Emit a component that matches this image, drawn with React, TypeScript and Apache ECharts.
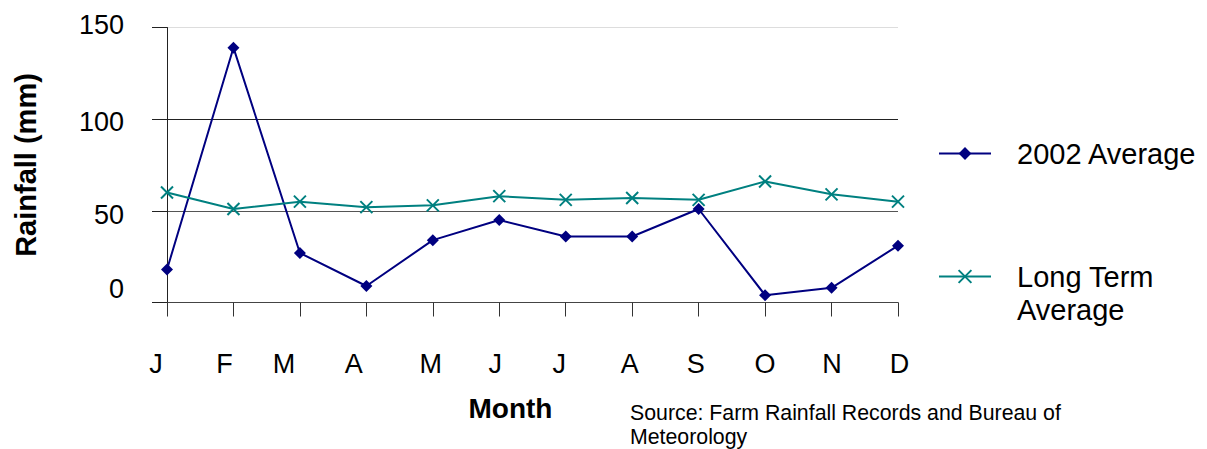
import React, { useEffect, useRef } from "react";
import * as echarts from "echarts";

const months = ["J", "F", "M", "A", "M", "J", "J", "A", "S", "O", "N", "D"];
const avg2002 = [18, 139, 27, 9, 34, 45, 36, 36, 51, 4, 8, 31];
const longTerm = [60, 51, 55, 52, 53, 58, 56, 57, 56, 66, 59, 55];
const yTicks = [0, 50, 100, 150];

const FONT = "'Liberation Sans', Arial, sans-serif";
// Horizontal nudge of each month label relative to its tick (px)
const labelNudge = [-11, -9, -16, -12.5, -2, -4, -6.5, -2.5, -3, 0, 0.5, 1.5];
// Vertical nudge of each value label relative to its gridline (px, + = down)
const valueNudge = [-14, 4, 3, -2.5];

const crossPath = "path://M0,0L10,10M10,0L0,10";

export default function App() {
  const ref = useRef<HTMLDivElement>(null);

  useEffect(() => {
    if (!ref.current) return;
    const chart = echarts.init(ref.current, undefined, { renderer: "svg" });

    const xRich: Record<string, any> = {};
    labelNudge.forEach((d, i) => {
      xRich["s" + i] = {
        fontFamily: FONT,
        fontSize: 27,
        color: "#000",
        padding: [0, d < 0 ? -2 * d : 0, 0, d > 0 ? 2 * d : 0],
      };
    });
    const yRich: Record<string, any> = {};
    valueNudge.forEach((d, i) => {
      yRich["v" + i] = {
        fontFamily: FONT,
        fontSize: 27,
        color: "#000",
        padding: [d > 0 ? 2 * d : 0, 0, d < 0 ? -2 * d : 0, 0],
      };
    });

    chart.setOption({
      animation: false,
      backgroundColor: "#fff",
      grid: { left: 167, right: 309, top: 27.5, bottom: 146.5, containLabel: false },
      xAxis: {
        type: "category",
        data: months,
        boundaryGap: false,
        name: "Month",
        nameLocation: "middle",
        nameGap: 92,
        nameTextStyle: {
          fontFamily: FONT,
          fontSize: 28,
          fontWeight: "bold",
          color: "#000",
          padding: [0, 44, 0, 0],
        },
        axisLine: { show: true, lineStyle: { color: "#444", width: 1 } },
        axisTick: { show: true, length: 14, inside: false, alignWithLabel: true, lineStyle: { color: "#333" } },
        axisLabel: {
          margin: 48,
          interval: 0,
          formatter: (v: string, i: number) => `{s${i}|${v}}`,
          rich: xRich,
        },
        splitLine: { show: false },
      },
      yAxis: {
        type: "value",
        min: yTicks[0],
        max: yTicks[yTicks.length - 1],
        interval: yTicks[1] - yTicks[0],
        name: "Rainfall (mm)",
        nameLocation: "middle",
        nameRotate: 90,
        nameGap: 127,
        nameTextStyle: {
          fontFamily: FONT,
          fontSize: 29,
          fontWeight: "bold",
          color: "#000",
        },
        axisLine: { show: true, lineStyle: { color: "#222", width: 1 } },
        axisTick: { show: true, length: 15, lineStyle: { color: "#222" } },
        axisLabel: {
          margin: 43,
          formatter: (v: number) => {
            const i = yTicks.indexOf(v);
            return `{v${i < 0 ? 0 : i}|${v}}`;
          },
          rich: yRich,
        },
        splitLine: {
          show: true,
          lineStyle: { color: ["#444", "#555", "#222", "#ddd"], width: 1 },
        },
      },
      legend: [
        {
          left: 938,
          top: 139,
          padding: 0,
          orient: "vertical",
          itemWidth: 52,
          itemHeight: 16,
          itemGap: 0,
          data: ["2002 Average"],
          textStyle: { fontFamily: FONT, fontSize: 29, color: "#000", padding: [0, 0, 0, 21] },
        },
        {
          left: 938,
          top: 227,
          padding: 0,
          orient: "vertical",
          itemWidth: 52,
          itemHeight: 16,
          itemGap: 0,
          data: ["Long Term\nAverage"],
          // leading empty line keeps the icon level with the first text line
          formatter: (name: string) => " \n" + name,
          textStyle: {
            fontFamily: FONT,
            fontSize: 29,
            lineHeight: 33,
            color: "#000",
            padding: [0, 0, 0, 21],
          },
        },
      ],
      series: [
        {
          name: "2002 Average",
          type: "line",
          data: avg2002,
          symbol: "diamond",
          symbolSize: 12,
          lineStyle: { color: "#000080", width: 2 },
          itemStyle: { color: "#000080" },
        },
        {
          name: "Long Term\nAverage",
          type: "line",
          data: longTerm,
          symbol: crossPath,
          symbolSize: 12,
          lineStyle: { color: "#008080", width: 2 },
          itemStyle: { color: "#008080", borderColor: "#008080", borderWidth: 2 },
        },
      ],
      graphic: [
        {
          type: "text",
          left: 630,
          top: 401,
          style: {
            text: "Source: Farm Rainfall Records and Bureau of\nMeteorology",
            fontFamily: FONT,
            fontSize: 21.3,
            lineHeight: 24,
            fill: "#000",
          },
        },
      ],
    });

    return () => chart.dispose();
  }, []);

  return (
    <div
      ref={ref}
      style={{ position: "fixed", left: 0, top: 0, width: 1207, height: 449, background: "#fff" }}
    />
  );
}
